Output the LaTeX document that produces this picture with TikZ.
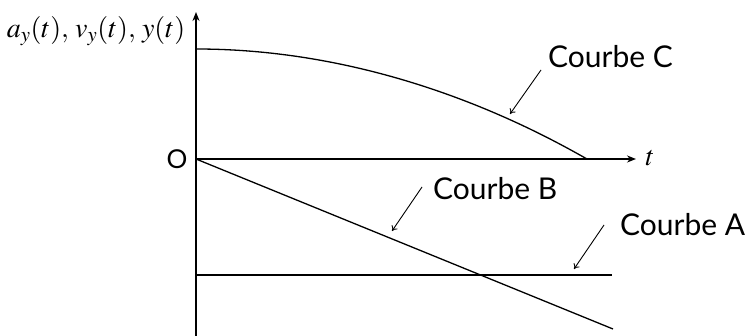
\documentclass[tikz,border=0pt]{standalone}
\usepackage{mathptmx}
\usepackage[no-math]{fontspec}
\setmainfont{Lato}
\usetikzlibrary{arrows.meta}
\tikzset{
  axe/.style={line width=2pt,-{Stealth[length=9pt,width=7pt]}},
  courbe/.style={line width=1.3pt},
  fleche/.style={line width=0.9pt,-{To[length=5pt,width=7pt]}},
  lbl/.style={font=\fontsize{30}{31}\selectfont,inner sep=0pt},
  axlbl/.style={font=\fontsize{28}{29}\selectfont,inner sep=0pt}
}
\begin{document}
\begin{tikzpicture}[x=1pt,y=-1pt]
			\useasboundingbox (0,0) rectangle (749,336);
			\coordinate (origin) at (196,159);
			\coordinate (ytop) at (196,12);
			\coordinate (ybot) at (196,336);
			\coordinate (xend) at (636,159);
			\draw[axe] (ybot) -- (ytop);
			\draw[axe] (origin) -- (xend);
			\node[lbl,font=\fontsize{26}{27}\selectfont] (O) at (177,159) {O};
			\node[axlbl] (yl) at (96,31) {$a_y(t),\, v_y(t),\, y(t)$};
			\node[axlbl] (tl) at (650,158) {$t$};
			\coordinate (Ctop) at (196,49);
			\coordinate (Cend) at (587,159);
			\coordinate (Bend) at (613,329);
			\coordinate (Adeb) at (196,275);
			\coordinate (Afin) at (612,275);
			\draw[courbe] (Ctop) parabola[bend at start] (Cend);
			\draw[courbe] (origin) -- (Bend);
			\draw[courbe] (Adeb) -- (Afin);
			\node[lbl,anchor=west] (labC) at (548,57) {Courbe C};
			\node[lbl,anchor=west] (labB) at (433,189) {Courbe B};
			\node[lbl,anchor=west] (labA) at (620,225) {Courbe A};
			\coordinate (pC) at (541,70);
			\coordinate (tC) at (510,114);
			\coordinate (pB) at (422,187);
			\coordinate (tB) at (392,231);
			\coordinate (pA) at (604,225);
			\coordinate (tA) at (574,269);
			\draw[fleche] (pC) -- (tC);
			\draw[fleche] (pB) -- (tB);
			\draw[fleche] (pA) -- (tA);
		\end{tikzpicture}
\end{document}
